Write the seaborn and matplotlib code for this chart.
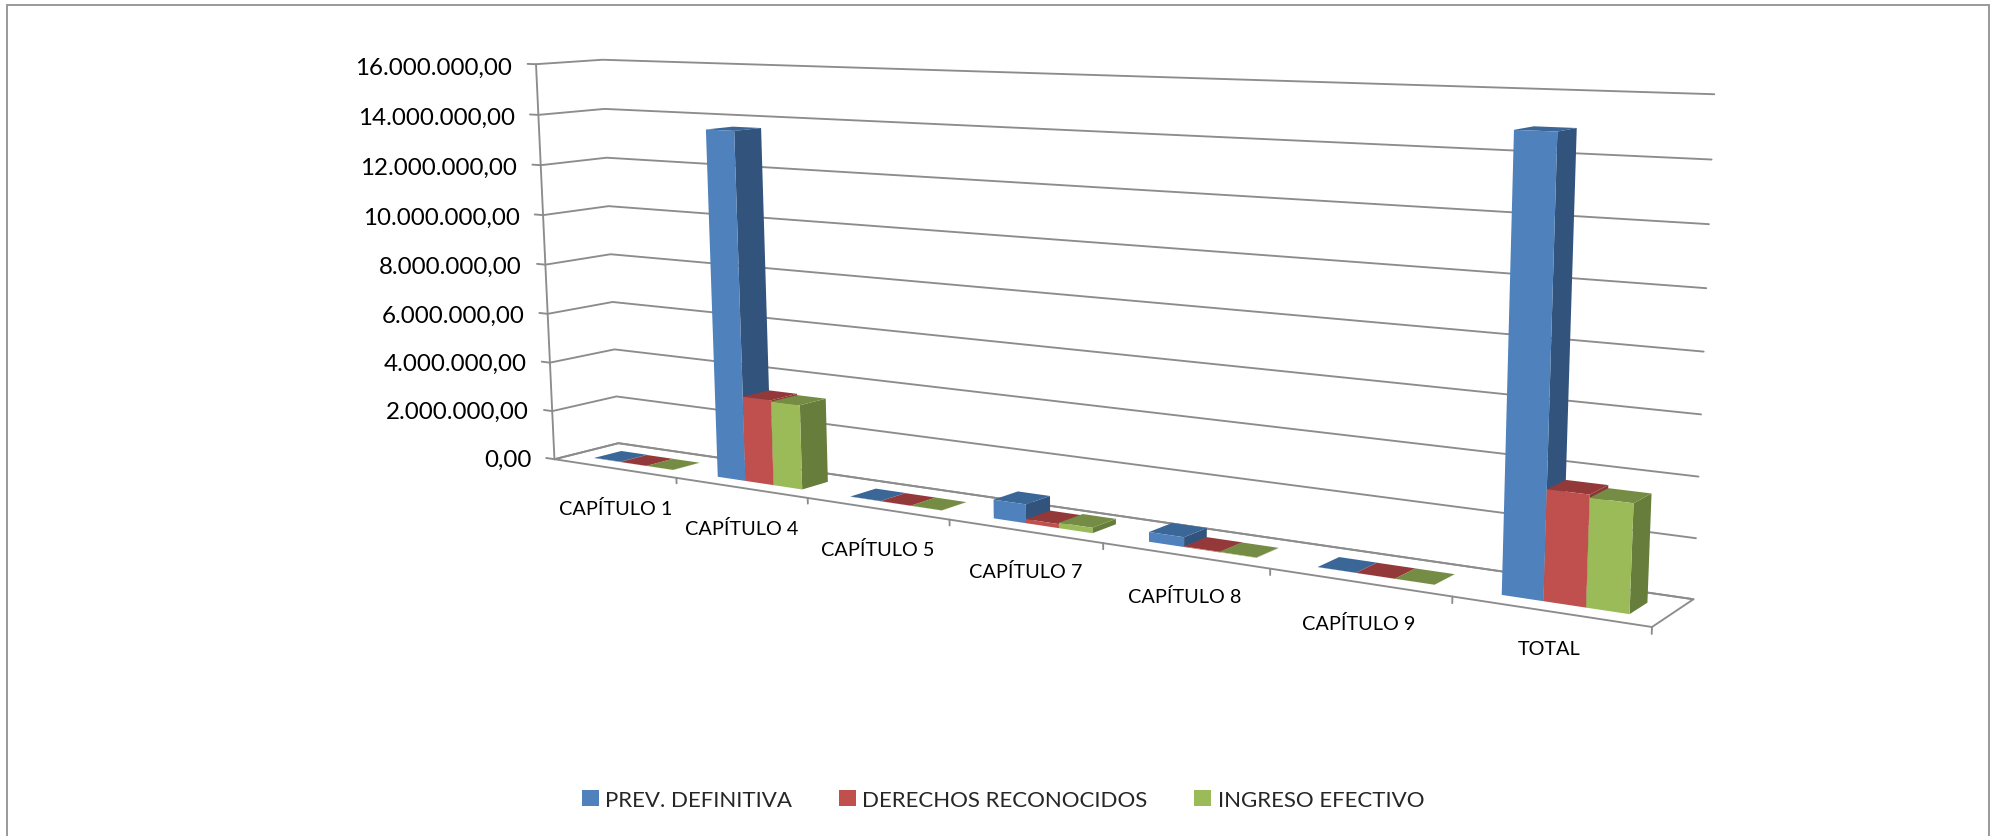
import numpy as np
import matplotlib
matplotlib.use("Agg")
import matplotlib.pyplot as plt
from matplotlib.patches import Patch, Rectangle
import seaborn as sns

categories = ["CAPÍTULO 1", "CAPÍTULO 4", "CAPÍTULO 5", "CAPÍTULO 7", "CAPÍTULO 8", "CAPÍTULO 9", "TOTAL"]
series_names = ["PREV. DEFINITIVA", "DERECHOS RECONOCIDOS", "INGRESO EFECTIVO"]
prev_definitiva = [15000, 13650000, 10000, 700000, 350000, 5000, 14900000]
derechos = [5000, 3350000, 5000, 150000, 20000, 2000, 3650000]
ingreso = [5000, 3300000, 5000, 200000, 15000, 2000, 3550000]
y_ticks = list(range(0, 16000001, 2000000))
y_labels = ["{:,.2f}".format(v).replace(",", "X").replace(".", ",").replace("X", ".") for v in y_ticks]

W, H = 1995, 837
sns.set_theme(style="white")
plt.rcParams["font.family"] = ["Lato", "DejaVu Sans"]

front = sns.color_palette(["#4F81BD", "#C0504D", "#9BBB59"])
top = sns.color_palette(["#3B6698", "#93393A", "#748C43"])
side = sns.color_palette(["#32537C", "#8A3634", "#677D3B"])
clear = (0, 0, 0, 0)
grid_col = "#8C8C8C"

# camera: box corners and axis ticks (cat, depth, millions) -> picture pixels
cam_world = np.array([[0, 0, 0], [1, 0, 0], [2, 0, 0], [3, 0, 0], [4, 0, 0], [5, 0, 0], [6, 0, 0], [7, 0, 0],
                      [0, 1, 0], [7, 1, 0], [0, 1, 16], [7, 1, 16], [0, 0, 16],
                      [7, 1, 8], [0, 0, 8], [0, 1, 8]], float)
cam_pix = np.array([[556, 460], [676, 479], [807, 499], [950, 522], [1103, 545], [1270, 570], [1452, 597], [1652, 628],
                    [618, 444], [1695, 598], [603, 61], [1715, 95], [536, 65],
                    [1702, 354], [545, 264], [610, 256]], float)
rows, rhs = [], []
for (a, b, c), (u, v) in zip(cam_world, cam_pix):
    rows.append([a, b, c, 1, 0, 0, 0, 0, -u * a, -u * b, -u * c])
    rows.append([0, 0, 0, 0, a, b, c, 1, -v * a, -v * b, -v * c])
    rhs += [u, v]
h = np.linalg.lstsq(np.array(rows), np.array(rhs), rcond=None)[0]
P = np.array([h[:4], h[4:8], [0, 1, 0, 0], [h[8], h[9], h[10], 1.0]])
P[:, 2] /= 1e6

fig = plt.figure(figsize=(W / 100, H / 100), dpi=100)
ax = fig.add_axes([0, 0, 1, 1], projection="3d")
ax.computed_zorder = False
ax.set_axis_off()
# no near-plane masking of points, the camera is replaced below
ax.set_proj_type("ortho")


def get_proj():
    # picture pixels -> 2D axes coordinates of the 3D axes
    inv = ax.transData.inverted()
    x0, y0 = inv.transform((0, H))
    x1, y1 = inv.transform((W, 0))
    A = np.array([[(x1 - x0) / W, 0, 0, x0], [0, (y1 - y0) / H, 0, y0], [0, 0, 1, 0], [0, 0, 0, 1]])
    return A @ P


ax.get_proj = get_proj


def fig_pos(x, y, z):
    # data point -> figure fraction, for the labels
    u, v, _, w = P @ np.array([x, y, z, 1.0])
    return u / w / W, 1 - v / w / H


line = dict(color=grid_col, lw=1.35, clip_on=False, zorder=1)
n = len(categories)
for v in y_ticks:
    ax.plot([-0.07, 0, 0, n], [0, 0, 1, 1], [v, v, v, v], **line)
ax.plot([0, 0], [0, 0], [0, y_ticks[-1]], **line)
ax.plot([0, n, n, 0, 0], [0, 0, 1, 1, 0], [0, 0, 0, 0, 0], **line)
for i in range(1, n + 1):
    ax.plot([i, i], [0, 0], [0, -220000], **line)

for v, lab in zip(y_ticks, y_labels):
    fig.text(*fig_pos(-0.2, 0, v - 150000), lab, ha="right", va="center", fontsize=17.4, color="black")
label_drop = [1650000, 1600000, 1530000, 1480000, 1430000, 1390000, 1210000]
for i, lab in enumerate(categories):
    fig.text(*fig_pos(i + 0.5, 0, -label_drop[i]), lab, ha="center", va="center", fontsize=14.3, color="black")

bar_w, bar_y, bar_d = 0.215, 0.27, 0.42
z = 3
for i in range(n):
    for j, vals in enumerate([prev_definitiva, derechos, ingreso]):
        # faces: bottom, top, front, back, left, right
        cols = [clear, top[j], front[j], clear, clear, side[j]]
        ax.bar3d(i + 0.19 + j * bar_w, bar_y, 0, bar_w, bar_d, vals[i], color=cols, shade=False,
                 linewidth=0, edgecolor="none", clip_on=False, zorder=z)
        z += 1

# the 3D axes keep their own hidden tick labels otherwise
ax.set_xticks([])
ax.set_yticks([])
ax.set_zticks([])

handles = [Patch(facecolor=c, edgecolor="none") for c in front]
fig.legend(handles, series_names, ncol=3, frameon=False, fontsize=16, loc="center",
           bbox_to_anchor=(1003 / W, 1 - 801 / H), handlelength=0.75, handleheight=0.75,
           handletextpad=0.3, columnspacing=2.1)

fig.add_artist(Rectangle((7 / W, -0.01), 1982 / W, 1 - 5.5 / H + 0.01, transform=fig.transFigure,
                         fill=False, edgecolor="#999999", lw=1.4))

fig.savefig("out.png", dpi=100)
